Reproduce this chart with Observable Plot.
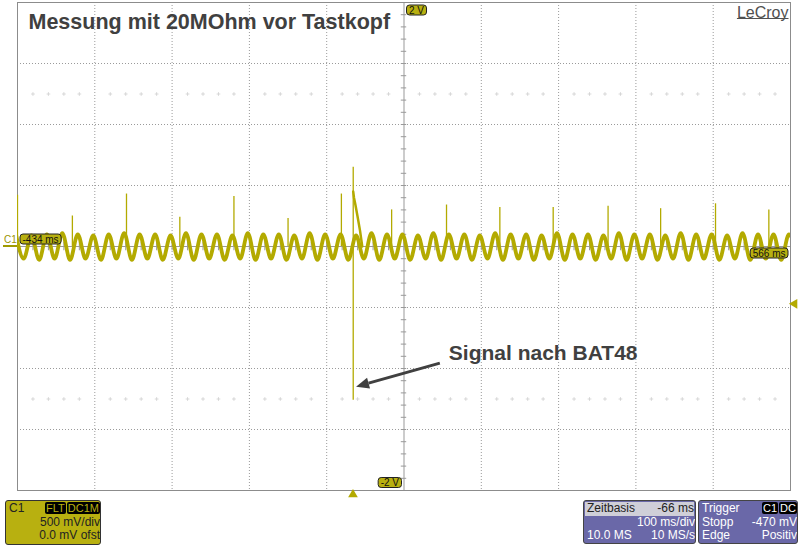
<!DOCTYPE html>
<html><head><meta charset="utf-8">
<script src="https://cdn.jsdelivr.net/npm/d3@7"></script>
<script src="https://cdn.jsdelivr.net/npm/@observablehq/plot@0.6"></script>
<style>
body{margin:0;background:#fff;font-family:"Liberation Sans",Arial,sans-serif;}
#wrap{position:relative;width:800px;height:547px;overflow:hidden;background:#fff;}
.panel{position:absolute;box-sizing:border-box;font-size:12px;line-height:13.5px;border-radius:3px;overflow:hidden;}
.row{display:flex;justify-content:space-between;align-items:center;padding:0 0 0 3px;white-space:nowrap;height:13.5px;}
.tag{background:#000;border-radius:2px;padding:0 1px;margin-left:1px;font-size:11px;line-height:11px;}
</style></head><body><div id="wrap"></div><script>
// ---------- data ----------
const xDomainMs = [-434, 566];          // 100 ms/div, 10 div
const yDomainV = [-2, 2];               // 500 mV/div, 8 div
const xGridMs = [-434, -334, -234, -134, -34, 66, 166, 266, 366, 466, 566];
const yGridV = [-2, -1.5, -1, -0.5, 0, 0.5, 1, 1.5, 2];
const centerMs = 66;
const triggerMs = 0;
const triggerLevelV = -0.47;

// waveform: alternating crest / trough samples, every 10 ms from -436 ms (50 Hz hum)
const waveStartMs = -436, waveStepMs = 10;
const waveV = [
 0.10,-0.10, 0.09,-0.11, 0.10,-0.10, 0.11,-0.11, 0.10,-0.10, 0.09,-0.11, 0.10,-0.10, 0.11,-0.11, 0.10,-0.10, 0.10,-0.11,
 0.09,-0.10, 0.11,-0.11, 0.10,-0.10, 0.10,-0.11, 0.09,-0.10, 0.11,-0.11, 0.10,-0.10, 0.10,-0.11, 0.09,-0.10, 0.11,-0.11,
 0.10,-0.10, 0.10,-0.11, 0.09,-0.10, 0.11,-0.11, 0.10,-0.10, 0.10,-0.11, 0.09,-0.10, 0.11,-0.11, 0.10,-0.10, 0.10,-0.11,
 0.09,-0.10, 0.11,-0.11, 0.10,-0.10, 0.10,-0.11, 0.09,-0.10, 0.11,-0.11, 0.10,-0.10, 0.10,-0.11, 0.09,-0.10, 0.11,-0.11,
 0.10,-0.10, 0.10,-0.11, 0.09,-0.10, 0.11,-0.11, 0.10,-0.10, 0.10,-0.11, 0.09,-0.10, 0.11,-0.11, 0.10,-0.10, 0.10,-0.11,
 0.10,-0.10
];
// narrow spikes riding on the hum
const spikeMs  = [-434, -363, -293, -224, -154, -84, -15, 50, 121, 190, 259, 330, 398, 469, 538];
const spikeTopV = [0.42, 0.25, 0.43, 0.24, 0.41, 0.23, 0.43, 0.30, 0.34, 0.32, 0.32, 0.33, 0.31, 0.35, 0.30];
// big pulse at trigger
const pulseMs = 0.3, pulseTopV = 0.65, pulseBottomV = -1.26;
const decayMs = [0.3, 1.3, 3.2, 5.8, 9.1, 12];
const decayV  = [0.45, 0.40, 0.34, 0.25, 0.13, 0.0];

const title = "Messung mit 20MOhm vor Tastkopf";
const brand = "LeCroy";
const note = "Signal nach BAT48";
const noteAt = {t: 124, v: -0.93};
const arrowFrom = {t: 113, v: -0.96}, arrowTo = {t: 4.6, v: -1.153};

// ---------- build ----------
const trace = "#b3aa00";
const badgeFill = "#b8b010";
const wave = waveV.map((v, i) => ({t: waveStartMs + i * waveStepMs, v}));
const spikes = spikeMs.map((t, i) => ({t, top: spikeTopV[i]}));
const decay = decayMs.map((t, i) => ({t, v: decayV[i]}));
const minorT = d3.range(xDomainMs[0], xDomainMs[1] + 0.1, 20);
const minorV = d3.range(-2, 2.001, 0.1).map(v => +v.toFixed(2));
const dotRows = [];
for (const v of [1.25, -1.25]) for (const t of minorT) if (!xGridMs.includes(t)) dotRows.push({t, v});

const font = "Liberation Sans, Arial, sans-serif";
const chart = Plot.plot({
  width: 800, height: 547,
  marginLeft: 17, marginRight: 10, marginTop: 2, marginBottom: 57,
  x: {domain: xDomainMs, axis: null},
  y: {domain: yDomainV, axis: null},
  style: {background: "transparent", fontFamily: font, overflow: "visible"},
  marks: [
    Plot.ruleX(xGridMs.filter(t => t !== centerMs), {stroke: "#9a9a9a", strokeDasharray: "1,2"}),
    Plot.ruleY(yGridV.filter(v => v !== 0), {stroke: "#9a9a9a", strokeDasharray: "1,2"}),
    Plot.dot(dotRows, {x: "t", y: "v", symbol: "plus", r: 1.3, stroke: "#cfcfcf", strokeWidth: 0.8}),
    Plot.ruleX([centerMs], {stroke: "#999"}),
    Plot.ruleY([0], {stroke: "#999"}),
    Plot.ruleX(minorT, {x: d => d, y1: -0.035, y2: 0.035, stroke: "#999"}),
    Plot.ruleY(minorV, {y: d => d, x1: centerMs - 3.5, x2: centerMs + 3.5, stroke: "#999"}),
    Plot.frame({stroke: "#8c8c8c"}),
    Plot.line(wave, {x: "t", y: "v", stroke: trace, strokeWidth: 3.8, curve: "monotone-x", clip: true}),
    Plot.ruleX(spikes, {x: "t", y1: 0, y2: "top", stroke: trace, strokeWidth: 1.3, clip: true}),
    Plot.ruleX([pulseMs], {y1: pulseBottomV, y2: pulseTopV, stroke: trace, strokeWidth: 1.3}),
    Plot.line(decay, {x: "t", y: "v", stroke: trace, strokeWidth: 2.5}),
    Plot.dot([triggerMs], {x: d => d, y: yDomainV[0], dy: 4, symbol: "triangle", r: 3.6, fill: trace, stroke: "none"}),
    Plot.dot([triggerLevelV], {x: xDomainMs[1], y: d => d, dx: 4, symbol: "triangle", rotate: -90, r: 3.6, fill: trace, stroke: "none"}),
    Plot.text([title], {frameAnchor: "top-left", dx: 11, dy: 26, lineAnchor: "bottom", textAnchor: "start", text: d => d, fontSize: 21.5, fontWeight: "bold", fill: "#404040"}),
    Plot.text([brand], {frameAnchor: "top-right", dx: -2, dy: 15, lineAnchor: "bottom", textAnchor: "end", text: d => d, fontSize: 16, fill: "#505050"}),
    Plot.text([note], {x: noteAt.t, y: noteAt.v, text: d => d, lineAnchor: "bottom", textAnchor: "start", fontSize: 21, fontWeight: "bold", fill: "#404040"}),
    Plot.text(["C1"], {x: xDomainMs[0], y: 0, dx: -7, dy: -7, text: d => d, fontSize: 10, fill: "#9a9400"})
  ]
});
const wrap = document.getElementById("wrap");
wrap.appendChild(chart);
chart.style.position = "absolute"; chart.style.left = "0"; chart.style.top = "0";

const sx = chart.scale("x"), sy = chart.scale("y");
const svg = d3.select(chart);
// underline of the brand text (drawn in the text's own coordinate frame)
{
  const bt = Array.from(chart.querySelectorAll("text")).find(n => n.textContent === brand);
  if (bt) {
    const bb = bt.getBBox();
    const ln = document.createElementNS("http://www.w3.org/2000/svg", "line");
    const tr = bt.getAttribute("transform");
    if (tr) ln.setAttribute("transform", tr);
    const yy = bb.y + bb.height - 2;
    ln.setAttribute("x1", bb.x); ln.setAttribute("x2", bb.x + bb.width);
    ln.setAttribute("y1", yy); ln.setAttribute("y2", yy);
    ln.setAttribute("stroke", "#505050"); ln.setAttribute("stroke-width", "1.2");
    bt.parentNode.appendChild(ln);
  }
}
// ground marker
svg.append("line").attr("x1", sx.apply(xDomainMs[0]) - 14).attr("x2", sx.apply(xDomainMs[0]))
  .attr("y1", sy.apply(0)).attr("y2", sy.apply(0)).attr("stroke", "#a09a00").attr("stroke-width", 2);
// arrow
{
  const x1 = sx.apply(arrowFrom.t), y1 = sy.apply(arrowFrom.v), x2 = sx.apply(arrowTo.t), y2 = sy.apply(arrowTo.v);
  const a = Math.atan2(y2 - y1, x2 - x1), L = 13, Wd = 5.5;
  const bx = x2 - L * Math.cos(a), by = y2 - L * Math.sin(a);
  svg.append("line").attr("x1", x1).attr("y1", y1).attr("x2", bx).attr("y2", by).attr("stroke", "#404040").attr("stroke-width", 3);
  svg.append("path").attr("d", `M${x2},${y2}L${bx - Wd * Math.sin(a)},${by + Wd * Math.cos(a)}L${bx + Wd * Math.sin(a)},${by - Wd * Math.cos(a)}Z`).attr("fill", "#404040");
}
// value badges
function badge(px, py, text, anchor) {
  const g = svg.append("g");
  const t = g.append("text").text(text).attr("font-size", 10).attr("font-family", font).attr("fill", "#111").attr("text-anchor", "start");
  const w = t.node().getComputedTextLength() + 5, h = 10;
  const left = anchor === "end" ? px - w : px;
  g.insert("rect", "text").attr("x", left).attr("y", py - h / 2).attr("width", w).attr("height", h)
    .attr("rx", 3).attr("fill", badgeFill).attr("stroke", "#222").attr("stroke-width", 1);
  t.attr("x", left + 2.5).attr("y", py + 3.6);
}
badge(sx.apply(centerMs) + 3, sy.apply(yDomainV[1]) + 8, `${yDomainV[1]} V`, "start");
badge(sx.apply(centerMs) - 2, sy.apply(yDomainV[0]) - 7.5, `${yDomainV[0]} V`, "end");
badge(sx.apply(xDomainMs[0]) + 3, sy.apply(0) - 7, `${xDomainMs[0]} ms`, "start");
badge(sx.apply(xDomainMs[1]) - 2, sy.apply(0) + 7, `${xDomainMs[1]} ms`, "end");

// instrument panels
function panel(html, css) { const d = document.createElement("div"); d.className = "panel"; d.innerHTML = html; Object.assign(d.style, css); wrap.appendChild(d); }
panel(`<div class="row" style="color:#222;margin-top:1px"><span>C1</span><span><span class="tag" style="color:${badgeFill}">FLT</span><span class="tag" style="color:${badgeFill}">DC1M</span></span></div>
<div class="row" style="justify-content:flex-end;color:#222">500 mV/div</div>
<div class="row" style="justify-content:flex-end;color:#222">0.0 mV ofst</div>`,
  {left: "5px", top: "500px", width: "96px", height: "45px", background: badgeFill, border: "1px solid #333"});
panel(`<div class="row" style="background:#cfcfd8;color:#222;margin:1px 1px 0 1px;padding-left:2px"><span>Zeitbasis</span><span>-66 ms</span></div>
<div class="row" style="justify-content:flex-end;color:#fff">100 ms/div</div>
<div class="row" style="color:#fff"><span>10.0 MS</span><span>10 MS/s</span></div>`,
  {left: "583px", top: "500px", width: "113px", height: "44px", background: "#6a68a8", border: "1px solid #444"});
panel(`<div class="row" style="color:#fff;margin-top:1px"><span>Trigger</span><span><span class="tag" style="color:#fff">C1</span><span class="tag" style="color:#fff">DC</span></span></div>
<div class="row" style="color:#fff"><span>Stopp</span><span>-470 mV</span></div>
<div class="row" style="color:#fff"><span>Edge</span><span>Positiv</span></div>`,
  {left: "698px", top: "500px", width: "100px", height: "44px", background: "#6a68a8", border: "1px solid #444"});
</script></body></html>
